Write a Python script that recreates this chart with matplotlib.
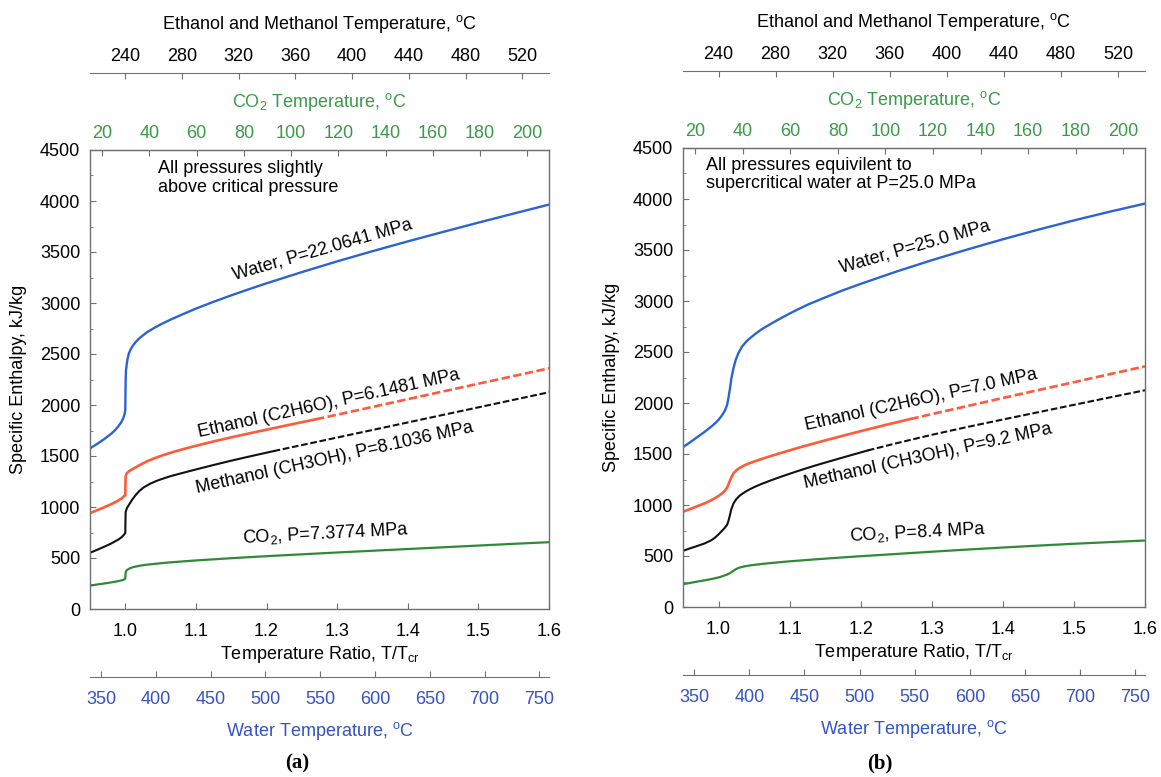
import numpy as np
import matplotlib.pyplot as plt
from matplotlib.ticker import MultipleLocator

plt.rcParams['font.family'] = ['Liberation Sans', 'DejaVu Sans']
plt.rcParams['mathtext.fontset'] = 'custom'
plt.rcParams['mathtext.rm'] = 'Liberation Sans'
plt.rcParams['mathtext.it'] = 'Liberation Sans:italic'
plt.rcParams['font.size'] = 13

# ---- panel (a): pressures slightly above critical ----
tr_water_a = [0.950, 0.960, 0.970, 0.980, 0.985, 0.990, 0.994, 0.997, 0.999, 1.000, 1.0002, 1.0005,
              1.001, 1.002, 1.003, 1.005, 1.0075, 1.010, 1.015, 1.020, 1.030, 1.040, 1.050, 1.065,
              1.080, 1.100, 1.125, 1.150, 1.175, 1.200, 1.250, 1.300, 1.350, 1.400, 1.450, 1.500,
              1.550, 1.600]
h_water_a = [1575, 1618, 1665, 1718, 1750, 1790, 1828, 1870, 1910, 1950, 2100, 2250,
             2340, 2400, 2445, 2505, 2545, 2575, 2620, 2655, 2710, 2752, 2790, 2840,
             2886, 2945, 3012, 3075, 3135, 3193, 3303, 3408, 3508, 3604, 3697, 3788,
             3877, 3965]

tr_eth_a = [0.950, 0.960, 0.970, 0.980, 0.990, 0.995, 0.998, 1.000, 1.0002, 1.0005, 1.002, 1.005,
            1.0095, 1.020, 1.030, 1.040, 1.055, 1.070, 1.085, 1.100, 1.125, 1.150, 1.175, 1.200,
            1.235, 1.270, 1.300, 1.350, 1.400, 1.450, 1.500, 1.550, 1.600]
h_eth_a = [940, 968, 997, 1028, 1063, 1085, 1105, 1115, 1230, 1300, 1330, 1350,
           1368, 1410, 1445, 1475, 1512, 1544, 1573, 1600, 1643, 1683, 1721, 1758,
           1810, 1860, 1905, 1981, 2057, 2133, 2209, 2284, 2360]

tr_meth_a = [0.950, 0.960, 0.970, 0.980, 0.990, 0.995, 0.998, 1.000, 1.0002, 1.0005, 1.002, 1.005,
             1.010, 1.015, 1.020, 1.026, 1.035, 1.045, 1.055, 1.065, 1.080, 1.100, 1.125, 1.150,
             1.175, 1.210, 1.250, 1.300, 1.350, 1.400, 1.450, 1.500, 1.550, 1.600]
h_meth_a = [551, 580, 610, 642, 680, 705, 728, 745, 860, 950, 985, 1020,
            1075, 1120, 1158, 1192, 1228, 1258, 1282, 1304, 1332, 1368, 1412, 1454,
            1494, 1548, 1607, 1681, 1755, 1829, 1903, 1977, 2051, 2125]

tr_co2_a = [0.950, 0.960, 0.970, 0.980, 0.990, 0.996, 0.999, 1.000, 1.0003, 1.001, 1.003, 1.006,
            1.012, 1.020, 1.030, 1.045, 1.060, 1.080, 1.100, 1.150, 1.200, 1.250, 1.300, 1.350,
            1.400, 1.450, 1.500, 1.550, 1.600]
h_co2_a = [229, 240, 250, 261, 273, 283, 292, 300, 345, 370, 385, 398,
           412, 424, 434, 445, 455, 466, 476, 498, 518, 536, 554, 571,
           588, 605, 622, 639, 655]

# ---- panel (b): pressures equivalent to water at 25 MPa ----
tr_water_b = [0.950, 0.960, 0.970, 0.980, 0.990, 0.995, 1.000, 1.005, 1.009, 1.012, 1.014, 1.016,
              1.018, 1.021, 1.024, 1.028, 1.033, 1.040, 1.050, 1.060, 1.075, 1.090, 1.105, 1.125,
              1.150, 1.175, 1.200, 1.250, 1.300, 1.350, 1.400, 1.450, 1.500, 1.550, 1.600]
h_water_b = [1567, 1615, 1665, 1715, 1770, 1800, 1835, 1880, 1925, 1980, 2050, 2140,
             2240, 2340, 2420, 2490, 2553, 2610, 2668, 2720, 2782, 2840, 2895, 2963,
             3035, 3105, 3168, 3288, 3400, 3505, 3605, 3700, 3790, 3875, 3955]

tr_eth_b = [0.950, 0.960, 0.970, 0.980, 0.990, 1.000, 1.005, 1.009, 1.012, 1.015, 1.018, 1.021,
            1.025, 1.030, 1.0375, 1.045, 1.055, 1.065, 1.075, 1.090, 1.105, 1.120, 1.136, 1.170,
            1.200, 1.235, 1.270, 1.300, 1.350, 1.400, 1.450, 1.500, 1.550, 1.600]
h_eth_b = [934, 960, 988, 1015, 1048, 1088, 1115, 1140, 1170, 1220, 1270, 1310,
           1340, 1365, 1393, 1413, 1438, 1461, 1483, 1515, 1546, 1576, 1607, 1670,
           1724, 1785, 1843, 1891, 1970, 2049, 2127, 2204, 2282, 2359]

tr_meth_b = [0.950, 0.960, 0.970, 0.980, 0.990, 0.995, 1.000, 1.005, 1.009, 1.012, 1.014, 1.016,
             1.018, 1.021, 1.025, 1.030, 1.036, 1.042, 1.050, 1.060, 1.073, 1.089, 1.105, 1.120,
             1.136, 1.170, 1.210, 1.250, 1.300, 1.350, 1.400, 1.450, 1.500, 1.550, 1.600]
h_meth_b = [551, 575, 598, 622, 655, 680, 712, 748, 778, 805, 845, 900,
            960, 1015, 1058, 1093, 1122, 1147, 1175, 1205, 1240, 1280, 1318, 1352,
            1387, 1456, 1535, 1605, 1688, 1765, 1838, 1910, 1982, 2054, 2125]

tr_co2_b = [0.950, 0.960, 0.970, 0.980, 0.990, 1.000, 1.006, 1.011, 1.015, 1.019, 1.023, 1.027,
            1.033, 1.040, 1.050, 1.062, 1.075, 1.100, 1.136, 1.170, 1.200, 1.250, 1.300, 1.350,
            1.400, 1.450, 1.500, 1.550, 1.600]
h_co2_b = [223, 236, 249, 261, 274, 290, 303, 315, 328, 345, 365, 380,
           393, 403, 413, 423, 432, 448, 467, 484, 498, 520, 542, 563,
           583, 602, 620, 636, 652]

# beyond these ratios the alcohol curves are drawn dashed
tr_dash_eth = 1.27
tr_dash_meth = 1.21

labels_a = ['Water, P=22.0641 MPa', 'Ethanol (C2H6O), P=6.1481 MPa',
            'Methanol (CH3OH), P=8.1036 MPa', 'CO$_2$, P=7.3774 MPa']
labels_b = ['Water, P=25.0 MPa', 'Ethanol (C2H6O), P=7.0 MPa',
            'Methanol (CH3OH), P=9.2 MPa', 'CO$_2$, P=8.4 MPa']
note_a = 'All pressures slightly\nabove critical pressure'
note_b = 'All pressures equivilent to\nsupercritical water at P=25.0 MPa'

c_water = '#2b63d3'
c_eth = '#ff5a3a'
c_meth = '#111111'
c_co2 = '#2f8a37'
c_water_txt = '#3552c4'
c_co2_txt = '#3a9a48'
c_spine = '#707070'


# temperature scales of the extra axes (linear in T/Tcr)
def co2_fwd(x):
    return 298.9 * x - 269.1


def co2_inv(t):
    return (t + 269.1) / 298.9


def eth_fwd(x):
    return 497.9 * x - 257.9


def eth_inv(t):
    return (t + 257.9) / 497.9


def water_fwd(x):
    return 644.3 * x - 272.2


def water_inv(t):
    return (t + 272.2) / 644.3


def plot_split(ax, tr, h, tr_dash, color, lw):
    tr = np.array(tr)
    h = np.array(h)
    solid = tr <= tr_dash
    dashed = tr >= tr_dash
    ax.plot(tr[solid], h[solid], color=color, lw=lw, solid_joinstyle='round')
    ax.plot(tr[dashed], h[dashed], color=color, lw=lw, dashes=(3.2, 1.3))


def draw_panel(ax, water, eth, meth, co2, labels, label_pos, note, note_pos):
    ax.plot(water[0], water[1], color=c_water, lw=1.7, solid_joinstyle='round')
    plot_split(ax, eth[0], eth[1], tr_dash_eth, c_eth, 1.9)
    plot_split(ax, meth[0], meth[1], tr_dash_meth, c_meth, 1.5)
    ax.plot(co2[0], co2[1], color=c_co2, lw=1.6, solid_joinstyle='round')

    ax.set_xlim(0.95, 1.6)
    ax.set_ylim(0, 4500)
    ax.set_xticks(np.arange(1.0, 1.61, 0.1))
    ax.set_xticklabels(['1.0', '1.1', '1.2', '1.3', '1.4', '1.5', '1.6'])
    ax.set_yticks(np.arange(0, 4501, 500))
    ax.yaxis.set_minor_locator(MultipleLocator(250))
    ax.tick_params(axis='x', which='major', direction='in', length=4, pad=10, color=c_spine)
    ax.tick_params(axis='y', which='both', direction='in', length=4, pad=7, color=c_spine)
    ax.tick_params(axis='y', which='minor', length=2.5)
    for s in ax.spines.values():
        s.set_color(c_spine)
        s.set_linewidth(1.0)
    ax.set_xlabel('Temperature Ratio, T/T$_{\\mathrm{cr}}$', labelpad=3)
    ax.set_ylabel('Specific Enthalpy, kJ/kg', labelpad=9)

    # CO2 temperature on the top spine
    sec_co2 = ax.secondary_xaxis('top', functions=(co2_fwd, co2_inv))
    sec_co2.set_xticks(np.arange(20, 201, 20))
    sec_co2.tick_params(direction='in', length=4, pad=6, labelcolor=c_co2_txt, color=c_spine)
    sec_co2.spines['top'].set_color(c_spine)
    sec_co2.set_xlabel('CO$_2$ Temperature, $^{\\mathrm{o}}$C', color=c_co2_txt, labelpad=13)

    # ethanol / methanol temperature, detached line above
    sec_eth = ax.secondary_xaxis(1.167, functions=(eth_fwd, eth_inv))
    sec_eth.set_xticks(np.arange(240, 521, 40))
    sec_eth.tick_params(direction='in', length=4, pad=6, color=c_spine)
    sec_eth.spines['top'].set_color(c_spine)
    sec_eth.set_xlabel('Ethanol and Methanol Temperature, $^{\\mathrm{o}}$C', labelpad=14)

    # water temperature, detached line below
    sec_w = ax.secondary_xaxis(-0.1475, functions=(water_fwd, water_inv))
    sec_w.set_xticks(np.arange(350, 751, 50))
    sec_w.tick_params(direction='in', length=4, pad=10, labelcolor=c_water_txt, color=c_spine)
    sec_w.spines['bottom'].set_color(c_spine)
    sec_w.set_xlabel('Water Temperature, $^{\\mathrm{o}}$C', color=c_water_txt, labelpad=9)

    rotations = [16, 12.5, 12.5, 3]
    for text, (x, y), rot in zip(labels, label_pos, rotations):
        ax.text(x, y, text, ha='center', va='center', rotation=rot,
                rotation_mode='anchor', fontsize=13)

    ax.text(note_pos[0], note_pos[1], note, ha='left', va='top', fontsize=13, linespacing=1.1)


fig = plt.figure(figsize=(11.61, 7.77), dpi=100)
ax_a = fig.add_axes([90 / 1161, 1 - 609 / 777, 459 / 1161, 459 / 777])
ax_b = fig.add_axes([683 / 1161, 1 - 607 / 777, 462 / 1161, 459 / 777])

draw_panel(ax_a, (tr_water_a, h_water_a), (tr_eth_a, h_eth_a), (tr_meth_a, h_meth_a),
           (tr_co2_a, h_co2_a), labels_a,
           [(1.279, 3526), (1.288, 2010), (1.297, 1479), (1.283, 741)],
           note_a, (1.047, 4400))
draw_panel(ax_b, (tr_water_b, h_water_b), (tr_eth_b, h_eth_b), (tr_meth_b, h_meth_b),
           (tr_co2_b, h_co2_b), labels_b,
           [(1.277, 3531), (1.285, 2030), (1.295, 1481), (1.280, 729)],
           note_b, (0.983, 4410))

fig.text(297 / 1161, 1 - 763 / 777, '(a)', ha='center', va='center', fontsize=15,
         fontweight='bold', family='Liberation Serif')
fig.text(880 / 1161, 1 - 763 / 777, '(b)', ha='center', va='center', fontsize=15,
         fontweight='bold', family='Liberation Serif')

fig.savefig('out.png', dpi=100)
